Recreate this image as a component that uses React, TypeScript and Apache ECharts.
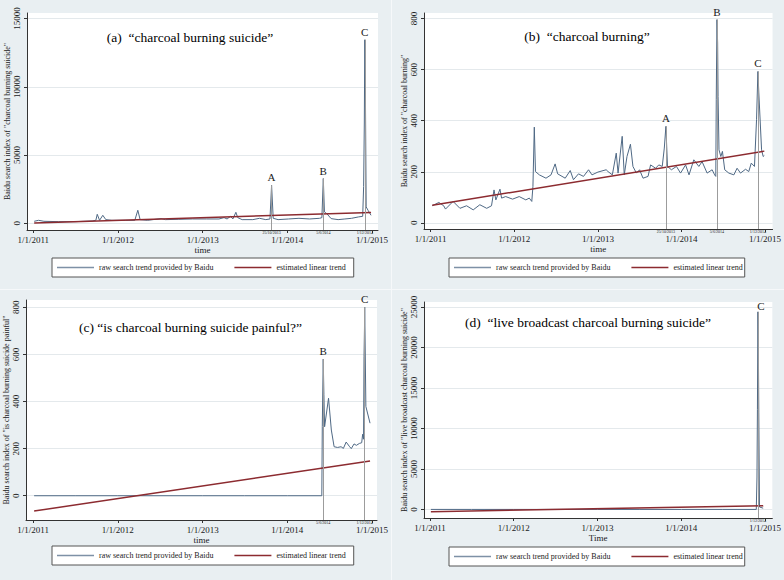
import React, { useEffect, useRef } from 'react';
import * as echarts from 'echarts';

const FONT = '"Liberation Serif", "Times New Roman", serif';

// ---- shared axis data ----
const yearTickDates = ['2011-01-01', '2012-01-01', '2013-01-01', '2014-01-01', '2015-01-01'];
const yearTickLabels = ['1/1/2011', '1/1/2012', '1/1/2013', '1/1/2014', '1/1/2015'];
const eventDates = ['2013-10-25', '2014-06-05', '2014-12-01'];
const eventDateLabels = ['25/10/2013', '5/6/2014', '1/12/2014'];
const eventLetters = ['A', 'B', 'C'];
const RAW_NAME = 'raw search trend provided by Baidu';
const TREND_NAME = 'estimated linear trend';

// ---- panel (a) "charcoal burning suicide" ----
const aDates = ['2011-01-05', '2011-01-24', '2011-02-16', '2011-04-20', '2011-07-01', '2011-09-12', '2011-09-28', '2011-10-04', '2011-10-14', '2011-10-28', '2011-11-10', '2011-12-06', '2012-02-03', '2012-03-14', '2012-03-27', '2012-04-06', '2012-05-08', '2012-07-05', '2012-07-24', '2012-09-20', '2012-11-18', '2013-01-18', '2013-03-12', '2013-04-03', '2013-04-16', '2013-05-01', '2013-05-11', '2013-05-24', '2013-06-01', '2013-06-20', '2013-08-05', '2013-09-03', '2013-09-30', '2013-10-18', '2013-10-25', '2013-11-01', '2013-11-22', '2014-01-06', '2014-02-20', '2014-04-07', '2014-05-20', '2014-05-30', '2014-06-05', '2014-06-10', '2014-06-20', '2014-07-09', '2014-08-08', '2014-09-06', '2014-10-05', '2014-11-03', '2014-11-22', '2014-11-26', '2014-11-29', '2014-12-01', '2014-12-03', '2014-12-07', '2014-12-15', '2014-12-28'];
const aValues = [147, 220, 147, 122, 122, 171, 220, 660, 220, 588, 270, 220, 220, 220, 955, 270, 220, 343, 270, 294, 318, 318, 318, 416, 318, 514, 318, 808, 416, 270, 270, 367, 270, 318, 2790, 367, 270, 318, 367, 318, 367, 416, 3283, 833, 710, 343, 270, 318, 367, 465, 514, 2700, 7350, 13450, 11390, 1200, 955, 588];
const aTrendDates = ['2011-01-05', '2014-12-28'];
const aTrendValues = [30, 800];
const aPeaks = [2790, 3283, 13450];
const aYTicks = [0, 5000, 10000, 15000];

// ---- panel (b) "charcoal burning" ----
const bDates = ['2011-01-08', '2011-02-06', '2011-02-27', '2011-03-07', '2011-04-09', '2011-05-09', '2011-06-07', '2011-07-06', '2011-08-04', '2011-09-03', '2011-09-24', '2011-10-05', '2011-10-13', '2011-10-31', '2011-11-07', '2011-11-25', '2011-12-25', '2012-01-23', '2012-02-21', '2012-03-07', '2012-03-18', '2012-03-23', '2012-03-29', '2012-04-03', '2012-04-20', '2012-05-19', '2012-06-10', '2012-06-28', '2012-07-09', '2012-08-11', '2012-09-02', '2012-09-16', '2012-10-08', '2012-10-30', '2012-11-21', '2012-12-06', '2013-01-01', '2013-02-06', '2013-02-14', '2013-03-05', '2013-03-22', '2013-03-30', '2013-04-17', '2013-04-26', '2013-05-08', '2013-05-23', '2013-06-03', '2013-06-18', '2013-07-02', '2013-07-17', '2013-08-08', '2013-08-19', '2013-09-10', '2013-09-24', '2013-10-09', '2013-10-18', '2013-10-25', '2013-11-01', '2013-11-18', '2013-12-10', '2013-12-28', '2014-01-19', '2014-02-03', '2014-02-24', '2014-03-18', '2014-04-01', '2014-04-23', '2014-05-15', '2014-05-26', '2014-05-31', '2014-06-02', '2014-06-05', '2014-06-08', '2014-06-10', '2014-06-14', '2014-06-22', '2014-06-29', '2014-07-09', '2014-07-27', '2014-08-18', '2014-09-01', '2014-09-16', '2014-10-08', '2014-10-22', '2014-11-02', '2014-11-16', '2014-11-25', '2014-12-01', '2014-12-05', '2014-12-17', '2014-12-24', '2014-12-29'];
const bValues = [67, 80, 67, 54, 84, 57, 67, 51, 71, 57, 67, 129, 90, 132, 97, 103, 93, 103, 90, 97, 84, 142, 375, 201, 188, 175, 188, 231, 192, 175, 205, 169, 192, 182, 208, 188, 199, 208, 201, 188, 273, 195, 339, 188, 260, 308, 221, 195, 208, 175, 182, 227, 214, 227, 221, 293, 378, 221, 208, 221, 195, 227, 188, 247, 221, 240, 195, 208, 188, 182, 482, 796, 705, 495, 286, 260, 280, 208, 195, 188, 214, 195, 210, 201, 234, 221, 404, 593, 509, 286, 260, 264];
const bTrendDates = ['2011-01-08', '2014-12-29'];
const bTrendValues = [69, 281];
const bPeaks = [378, 796, 593];
const bYTicks = [0, 200, 400, 600, 800];

// ---- panel (c) "is charcoal burning suicide painful?" ----
const cDates = ['2011-01-05', '2011-07-01', '2012-01-01', '2012-07-01', '2013-01-01', '2013-07-01', '2014-01-01', '2014-05-30', '2014-06-01', '2014-06-05', '2014-06-08', '2014-06-11', '2014-06-28', '2014-07-10', '2014-07-22', '2014-08-06', '2014-08-21', '2014-08-31', '2014-09-12', '2014-09-27', '2014-10-04', '2014-10-16', '2014-10-26', '2014-11-08', '2014-11-18', '2014-11-22', '2014-11-26', '2014-11-28', '2014-11-30', '2014-12-01', '2014-12-06', '2014-12-24'];
const cValues = [0, 0, 0, 0, 0, 0, 0, 0, 293, 580, 430, 293, 414, 279, 208, 205, 208, 201, 228, 208, 200, 220, 214, 222, 225, 261, 240, 590, 710, 801, 379, 308];
const cTrendDates = ['2011-01-05', '2014-12-24'];
const cTrendValues = [-65, 147];
const cPeaks = [580, 801];
const cYTicks = [0, 200, 400, 600, 800];

// ---- panel (d) "live broadcast charcoal burning suicide" ----
const dDates = ['2011-01-05', '2011-07-01', '2012-01-01', '2012-07-01', '2013-01-01', '2013-07-01', '2014-01-01', '2014-07-01', '2014-11-24', '2014-11-27', '2014-11-29', '2014-12-01', '2014-12-03', '2014-12-05', '2014-12-08', '2014-12-24'];
const dValues = [0, 0, 0, 0, 0, 0, 0, 0, 0, 4000, 12300, 24400, 20300, 12000, 300, 150];
const dTrendDates = ['2011-01-05', '2014-12-24'];
const dTrendValues = [-280, 450];
const dPeaks = [24400];
const dYTicks = [0, 5000, 10000, 15000, 20000, 25000];

const toDay = (s: string) => {
  const [y, m, d] = s.split('-').map(Number);
  return (Date.UTC(y, m - 1, d) - Date.UTC(2011, 0, 1)) / 86400000;
};
const pairs = (dates: string[], vals: number[]) => dates.map((d, i) => [toDay(d), vals[i]]);

const yearTickDays = yearTickDates.map(toDay);
const eventDays = eventDates.map(toDay);

type Panel = {
  grid: { left: number; top: number; width: number; height: number };
  xMin: number; xMax: number; yMin: number; yMax: number;
  yTicks: number[]; yName: string; xName: string;
  title: string; titleX: number; titleY: number;
  legend: { left: number; top: number; padRight: number };
  dates: string[]; values: number[]; tDates: string[]; tValues: number[];
  eventIdx: number[]; peaks: number[];
  letterOffset?: number[];
};

const panels: Panel[] = [
  {
    grid: { left: 27, top: 13, width: 351, height: 217 },
    xMin: -27, xMax: 1487, yMin: -490, yMax: 15410, yTicks: aYTicks,
    yName: 'Baidu search index of "charcoal burning suicide"', xName: 'time',
    title: '(a)  \u201ccharcoal burning suicide\u201d', titleX: 190, titleY: 37,
    legend: { left: 52, top: 258, padRight: 8 },
    dates: aDates, values: aValues, tDates: aTrendDates, tValues: aTrendValues,
    eventIdx: [0, 1, 2], peaks: aPeaks,
  },
  {
    grid: { left: 424, top: 13, width: 351, height: 216 },
    xMin: -29, xMax: 1494, yMin: -24, yMax: 822, yTicks: bYTicks,
    yName: 'Baidu search index of "charcoal burning"', xName: 'time',
    title: '(b)  \u201ccharcoal burning\u201d', titleX: 587, titleY: 36,
    legend: { left: 449, top: 258, padRight: 2 },
    dates: bDates, values: bValues, tDates: bTrendDates, tValues: bTrendValues,
    eventIdx: [0, 1, 2], peaks: bPeaks,
  },
  {
    grid: { left: 26, top: 300, width: 351, height: 220 },
    xMin: -31, xMax: 1483, yMin: -103, yMax: 831, yTicks: cYTicks,
    yName: 'Baidu search index of "is charcoal burning suicide painful"', xName: 'time',
    title: '(c) \u201cis charcoal burning suicide painful?\u201d', titleX: 190.5, titleY: 327,
    legend: { left: 52, top: 546, padRight: 8 },
    dates: cDates, values: cValues, tDates: cTrendDates, tValues: cTrendValues,
    eventIdx: [1, 2], peaks: cPeaks,
  },
  {
    grid: { left: 424, top: 302, width: 350, height: 216 },
    xMin: -26, xMax: 1493, yMin: -1060, yMax: 25615, yTicks: dYTicks,
    yName: 'Baidu search index of "live broadcast charcoal burning suicide"', xName: 'Time',
    title: '(d)  \u201clive broadcast charcoal burning suicide\u201d', titleX: 588, titleY: 322,
    legend: { left: 449, top: 547, padRight: 2 },
    dates: dDates, values: dValues, tDates: dTrendDates, tValues: dTrendValues,
    eventIdx: [2], peaks: dPeaks, letterOffset: [3, 2],
  },
];

const RAW_COLOR = '#4f6985';
const TREND_COLOR = '#8c2b30';
const TEXT = '#1a1a1a';

function buildOption() {
  const grid: any[] = [];
  const xAxis: any[] = [];
  const yAxis: any[] = [];
  const series: any[] = [];
  const legend: any[] = [];
  const graphic: any[] = [];

  panels.forEach((p, i) => {
    grid.push({ ...p.grid, show: true, backgroundColor: '#ffffff', borderWidth: 0 });
    // primary x axis
    xAxis.push({
      type: 'value', gridIndex: i, position: 'bottom', min: p.xMin, max: p.xMax,
      name: p.xName, nameLocation: 'middle', nameGap: 13,
      nameTextStyle: { fontFamily: FONT, fontSize: 9, color: TEXT },
      axisLine: { show: true, onZero: false, lineStyle: { color: '#333', width: 1 } },
      axisTick: { show: true, inside: false, length: 3, customValues: yearTickDays, lineStyle: { color: '#333' } },
      axisLabel: {
        show: true, customValues: yearTickDays, margin: 5.5,
        fontFamily: FONT, fontSize: 9, lineHeight: 9, color: TEXT,
        formatter: (v: number) => {
          const k = yearTickDays.indexOf(v);
          return k >= 0 ? yearTickLabels[k] : '';
        },
      },
      splitLine: { show: false },
    });
    // secondary x axis for event date labels
    const evDays = p.eventIdx.map((k) => eventDays[k]);
    xAxis.push({
      type: 'value', gridIndex: i, position: 'bottom', min: p.xMin, max: p.xMax,
      axisLine: { show: false, onZero: false },
      axisTick: { show: false, customValues: evDays },
      axisLabel: {
        show: true, customValues: evDays, margin: 0.5,
        fontFamily: FONT, fontSize: 4, lineHeight: 4.5, color: TEXT,
        formatter: (v: number) => {
          const k = eventDays.indexOf(v);
          return k >= 0 ? eventDateLabels[k] : '';
        },
      },
      splitLine: { show: false },
    });
    yAxis.push({
      type: 'value', gridIndex: i, position: 'left', min: p.yMin, max: p.yMax,
      name: p.yName, nameLocation: 'middle', nameGap: 15.5,
      nameTextStyle: { fontFamily: FONT, fontSize: 8, color: TEXT },
      axisLine: { show: true, onZero: false, lineStyle: { color: '#333', width: 1 } },
      axisTick: { show: true, inside: false, length: 3, customValues: p.yTicks, lineStyle: { color: '#333' } },
      axisLabel: {
        show: true, customValues: p.yTicks, rotate: 90, margin: 6,
        fontFamily: FONT, fontSize: 9, color: TEXT,
        formatter: (v: number) => String(v),
      },
      splitLine: { show: true, lineStyle: { color: '#e4e9ec', width: 1 } },
    });

    const evIdxArr = p.eventIdx;
    series.push({
      name: RAW_NAME, type: 'line', xAxisIndex: i * 2, yAxisIndex: i,
      data: pairs(p.dates, p.values), symbol: 'none', clip: false,
      lineStyle: { color: RAW_COLOR, width: 1 }, itemStyle: { color: RAW_COLOR },
      z: 3,
      markLine: {
        silent: true, symbol: ['none', 'none'], animation: false,
        lineStyle: { color: '#9c9c9c', width: 1, type: 'solid' },
        label: { show: false },
        emphasis: { disabled: true },
        data: evIdxArr.map((k, j) => [
          { coord: [eventDays[k], p.peaks[j]] },
          { coord: [eventDays[k], p.yMin] },
        ]),
      },
      markPoint: {
        silent: true, animation: false, symbol: 'circle', symbolSize: 1,
        itemStyle: { color: 'rgba(0,0,0,0)' },
        label: {
          show: true, position: 'top', distance: 2, formatter: '{b}',
          fontFamily: FONT, fontSize: 11, color: TEXT,
          offset: p.letterOffset || [0, 0],
        },
        data: evIdxArr.map((k, j) => ({ name: eventLetters[k], coord: [eventDays[k], p.peaks[j]] })),
      },
    });
    series.push({
      name: TREND_NAME, type: 'line', xAxisIndex: i * 2, yAxisIndex: i,
      data: pairs(p.tDates, p.tValues), symbol: 'none',
      lineStyle: { color: TREND_COLOR, width: 1.5 }, itemStyle: { color: TREND_COLOR },
      z: 4,
    });

    legend.push({
      left: p.legend.left, top: p.legend.top, orient: 'horizontal',
      data: [
        { name: RAW_NAME, icon: 'rect', itemStyle: { color: '#7e91a6' } },
        { name: TREND_NAME, icon: 'rect', itemStyle: { color: TREND_COLOR } },
      ],
      itemWidth: 37, itemHeight: 1.5, itemGap: 21,
      padding: [4, p.legend.padRight, 4, 5],
      backgroundColor: '#ffffff', borderColor: '#555', borderWidth: 1, borderRadius: 0,
      textStyle: { fontFamily: FONT, fontSize: 8, color: TEXT, lineHeight: 11 },
      selectedMode: false,
    });

    graphic.push({
      type: 'text', x: p.titleX, y: p.titleY, silent: true,
      style: {
        text: p.title, fill: '#000', font: `13.5px ${FONT}`,
        textAlign: 'center', textVerticalAlign: 'middle',
      },
    });
  });

  graphic.push({ type: 'line', silent: true, shape: { x1: 391.5, y1: 0, x2: 391.5, y2: 580 }, style: { stroke: '#f6f8fa', lineWidth: 1 } });
  graphic.push({ type: 'line', silent: true, shape: { x1: 0, y1: 289.5, x2: 784, y2: 289.5 }, style: { stroke: '#f6f8fa', lineWidth: 1 } });

  return {
    animation: false,
    backgroundColor: '#e9eff2',
    textStyle: { fontFamily: FONT },
    grid, xAxis, yAxis, series, legend, graphic,
  };
}

export default function App() {
  const ref = useRef<HTMLDivElement>(null);
  useEffect(() => {
    if (!ref.current) return;
    const chart = echarts.init(ref.current, undefined, { renderer: 'svg' });
    chart.setOption(buildOption() as any);
    return () => chart.dispose();
  }, []);
  return <div ref={ref} style={{ position: 'fixed', left: 0, top: 0, width: 784, height: 580 }} />;
}
